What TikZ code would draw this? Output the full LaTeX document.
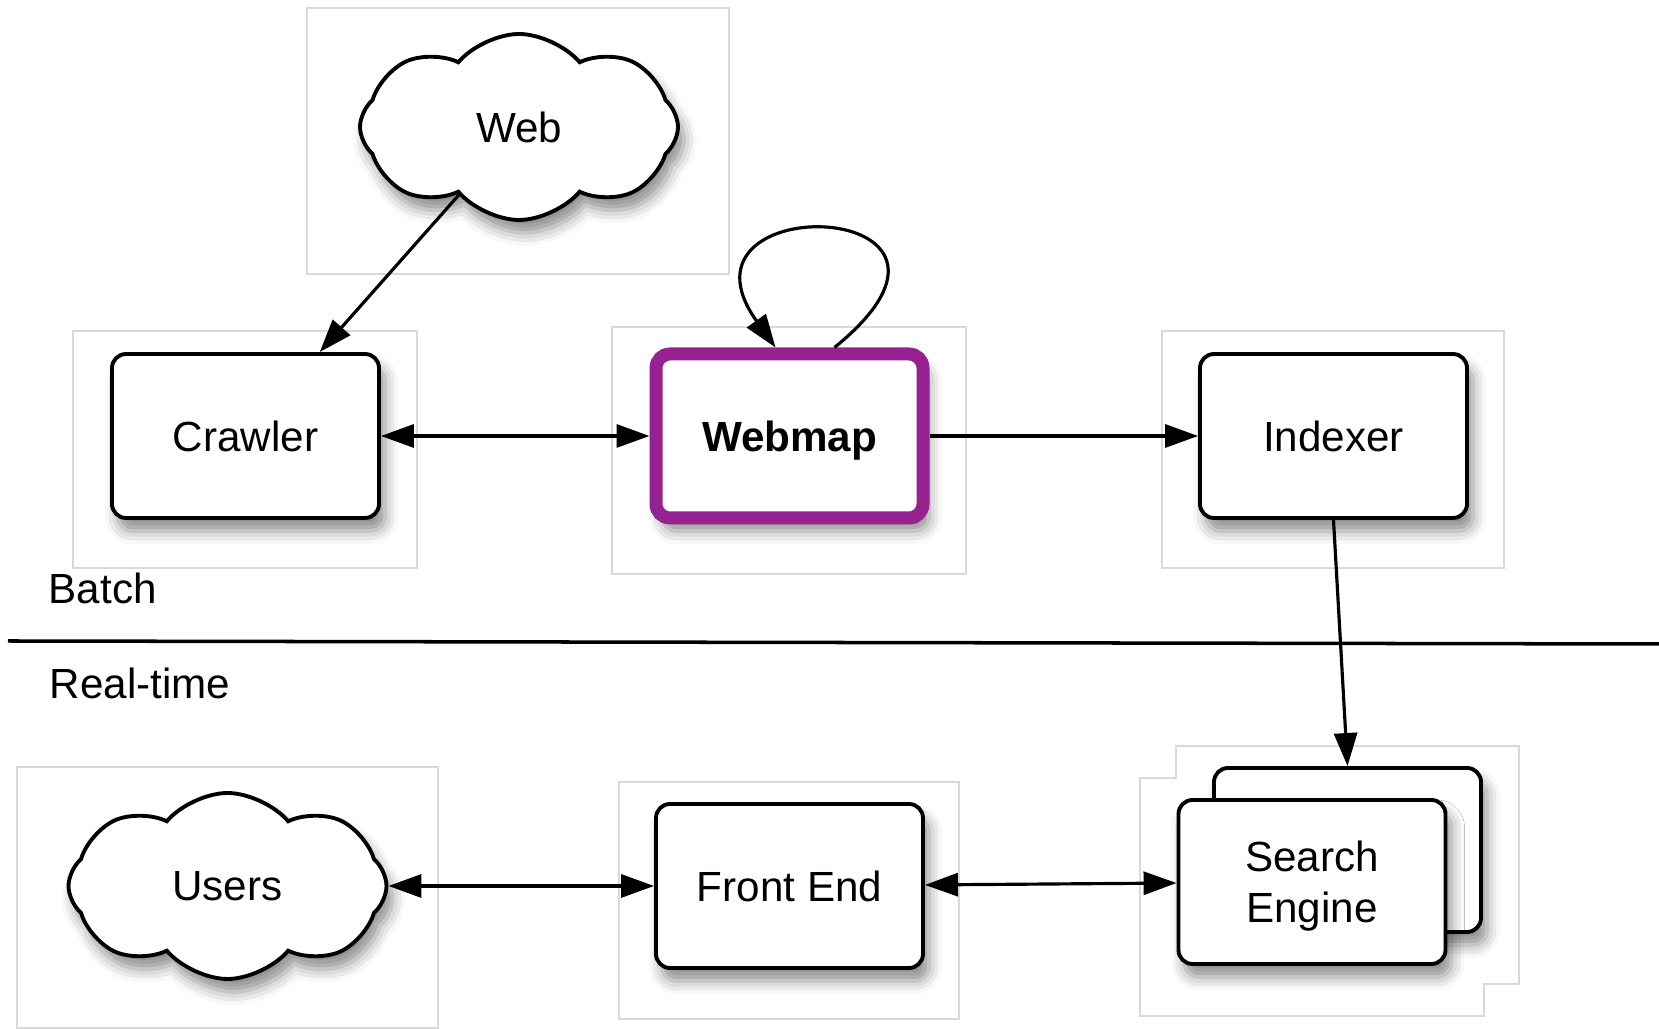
\documentclass[tikz,border=0pt]{standalone}
\usepackage{fontspec}
\setmainfont{Liberation Sans}
\usetikzlibrary{positioning, arrows.meta, shapes.symbols, shadows.blur}

\definecolor{webmappurple}{RGB}{150,34,146}

\begin{document}
\begin{tikzpicture}[node distance=5.44cm, on grid, auto]
        \tikzset{>={Triangle[length=3.3mm,width=2.3mm]}}
        \tikzset{softshadow/.style={blur shadow={shadow xshift=0.6mm, shadow yshift=-1.3mm, shadow blur radius=1.3mm, shadow opacity=45}}}
        \tikzstyle{box}=[draw, line width=1.1pt, rounded corners=1.4mm, fill=white, minimum width=2.67cm, minimum height=1.64cm, align=center, text depth=0pt, font=\fontsize{12}{14.5}\selectfont, softshadow]
        \tikzstyle{blob}=[cloud, cloud puffs=8, cloud puff arc=100, cloud ignores aspect, draw, line width=1.1pt, fill=white, minimum width=3.18cm, minimum height=1.86cm, font=\fontsize{12}{14.5}\selectfont, softshadow]
        \tikzstyle{frame}=[draw=gray!30, line width=0.4pt]
        \tikzstyle{flow}=[line width=0.9pt]
        \tikzstyle{tier}=[inner sep=0pt, anchor=base west, font=\fontsize{12}{14.5}\selectfont]

        \useasboundingbox (0,0) rectangle (16.59,-10.29);

        \draw[frame] (3.07,-0.08) rectangle (7.29,-2.74);
        \draw[frame] (0.73,-3.31) rectangle (4.17,-5.68);
        \draw[frame] (6.12,-3.27) rectangle (9.66,-5.74);
        \draw[frame] (11.62,-3.31) rectangle (15.04,-5.68);
        \draw[frame] (0.17,-7.67) rectangle (4.38,-10.28);
        \draw[frame] (6.19,-7.82) rectangle (9.59,-10.19);
        \draw[frame] (11.40,-7.78) -- (11.76,-7.78) -- (11.76,-7.46) -- (15.19,-7.46)
            -- (15.19,-9.84) -- (14.84,-9.84) -- (14.84,-10.16) -- (11.40,-10.16) -- cycle;

        \node[blob] (web) at (5.19,-1.27) {Web};
        \node[box] (crawler) at (2.455,-4.36) {Crawler};
        \node[box, draw=webmappurple, line width=3.7pt, font=\fontsize{12}{14.5}\selectfont\bfseries] (webmap) [right=of crawler] {Webmap};
        \node[box] (indexer) [right=of webmap] {Indexer};
        \node[box] (frontend) [below=4.5 of webmap] {Front End};
        \node[blob] (users) [left=5.62 of frontend] {Users};
        \node[box] (searchback) [right=5.58 of frontend, yshift=3.6mm] {};
        \node[box] (search) [below left=0.32 and 0.355 of searchback] {Search\\Engine};

        \node[tier] (batch) at (0.48,-6.04) {Batch};
        \node[tier] (realtime) at (0.49,-6.99) {Real-time};
        \coordinate (splitl) at (0.08,-6.41);
        \coordinate (splitr) at (16.59,-6.44);
        \draw[line width=1pt] (splitl) -- (splitr);

        \path[->, flow]
        (web) edge (crawler)
        (crawler) edge[<->] (webmap)
        (webmap) edge (indexer)
        (indexer.south) edge (searchback.north)
        (users) edge[<->] (frontend)
        (frontend) edge[<->] (search);
        \draw[->, flow] ([xshift=4.5mm]webmap.north) .. controls +(1.85,1.5) and +(-1.16,1.62) .. ([xshift=-1.4mm]webmap.north);
    \end{tikzpicture}
\end{document}
